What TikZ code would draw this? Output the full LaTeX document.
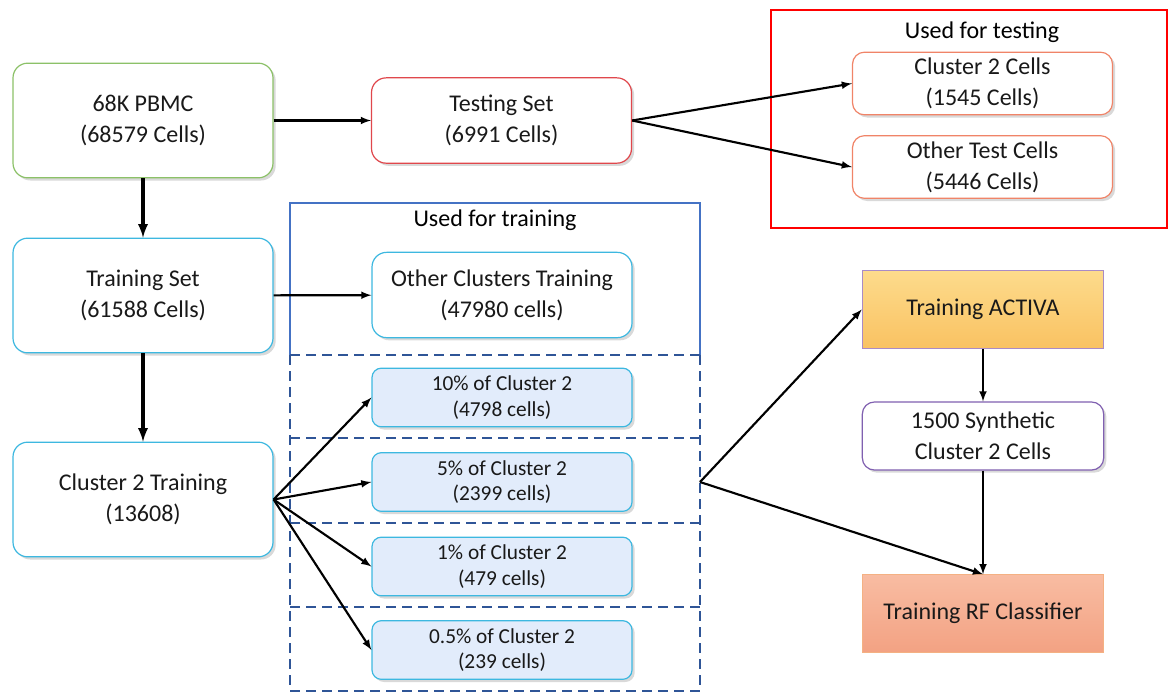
\documentclass[tikz,border=0pt]{standalone}
\usepackage{fontspec}
\setmainfont{Carlito}
\usetikzlibrary{shadows,arrows}
\definecolor{pbmcgreen}{HTML}{8CC168}
\definecolor{testred}{HTML}{E0474C}
\definecolor{framered}{HTML}{FF0000}
\definecolor{subred}{HTML}{F08468}
\definecolor{traincyan}{HTML}{3DB8E0}
\definecolor{frameblue}{HTML}{4472C4}
\definecolor{bandblue}{HTML}{2F5597}
\definecolor{pctfill}{HTML}{E2ECFB}
\definecolor{activatop}{HTML}{FDDB8C}
\definecolor{activabot}{HTML}{F9C262}
\definecolor{activaedge}{HTML}{A98BC6}
\definecolor{synthedge}{HTML}{8060B0}
\definecolor{rftop}{HTML}{F8BCA2}
\definecolor{rfbot}{HTML}{F3A283}
\definecolor{rfedge}{HTML}{F4B183}
\begin{document}
\begin{tikzpicture}[x=0.75pt,y=-0.75pt]
	\tikzstyle{cellbox} = [draw, fill=white, rounded corners=11pt, line width=0.9pt, minimum width=195pt, minimum height=86pt, align=center, text=black!90, font={\fontsize{18}{23}\selectfont}, drop shadow={shadow xshift=2pt, shadow yshift=-2pt, opacity=0.3}]
	\tikzstyle{subbox} = [cellbox, minimum width=195pt, minimum height=47pt, rounded corners=9pt]
	\tikzstyle{pctbox} = [cellbox, fill=pctfill, draw=traincyan, minimum width=195pt, minimum height=44pt, rounded corners=7pt, font={\fontsize{16}{19}\selectfont}]
	\tikzstyle{stagebox} = [draw, rectangle, line width=0.9pt, minimum width=181pt, minimum height=58pt, align=center, text=black!90, font={\fontsize{18}{23}\selectfont}]
	\tikzstyle{band} = [draw=bandblue, line width=1.5pt, dash pattern=on 7.5pt off 4.5pt]
	\tikzstyle{thin} = [-latex, line width=1.6pt]
	\tikzstyle{thick} = [-latex, line width=2.4pt]
	\useasboundingbox (0,0) rectangle (1169,693);

	% frames
	\draw[framered, line width=2.2pt] (771,10) rectangle (1167,228);
	\node[font={\fontsize{18}{22}\selectfont}] (testlabel) at (982,32) {Used for testing};
	\draw[frameblue, line width=1.5pt] (290,355) |- (700,203) -- (700,355);
	\node[font={\fontsize{18}{22}\selectfont}] (trainlabel) at (495,220) {Used for training};
	\foreach \y in {355, 438, 523, 607, 691}
		\draw[band] (290,\y) -- (700,\y);
	\draw[band] (290,355) -- (290,691);
	\draw[band] (700,355) -- (700,691);

	% left column
	\node[cellbox, draw=pbmcgreen] (pbmc) at (143,120.5) {68K PBMC\\(68579 Cells)};
	\node[cellbox, draw=traincyan] (trainset) at (143,295.5) {Training Set\\(61588 Cells)};
	\node[cellbox, draw=traincyan] (cluster) at (143,499.5) {Cluster 2 Training\\(13608)};
	\draw[thick] (pbmc) -- (trainset);
	\draw[thick] (trainset) -- (cluster);

	% testing branch
	\node[cellbox, draw=testred, minimum height=64pt] (testset) at (501.5,120.5) {Testing Set\\(6991 Cells)};
	\node[subbox, draw=subred] (c2test) at (982.5,83.5) {Cluster 2 Cells\\(1545 Cells)};
	\node[subbox, draw=subred] (othertest) at (982.5,167) {Other Test Cells\\(5446 Cells)};
	\draw[thin] (pbmc) -- (testset);
	\draw[thin] (testset.east) -- (c2test.west);
	\draw[thin] (testset.east) -- (othertest.west);

	% training branch
	\node[cellbox, draw=traincyan, minimum height=64pt] (othertrain) at (502,295) {Other Clusters Training\\(47980 cells)};
	\draw[thin] (trainset) -- (othertrain);
	\node[pctbox] (p10) at (502,397.5) {10\% of Cluster 2\\(4798 cells)};
	\node[pctbox] (p5) at (502,482) {5\% of Cluster 2\\(2399 cells)};
	\node[pctbox] (p1) at (502,566.5) {1\% of Cluster 2\\(479 cells)};
	\node[pctbox] (p05) at (502,650) {0.5\% of Cluster 2\\(239 cells)};
	\foreach \p in {p10, p5, p1, p05}
		\draw[thin] (cluster.east) -- (\p.west);

	% right column
	\node[stagebox, draw=activaedge, top color=activatop, bottom color=activabot] (activa) at (983,309.5) {Training ACTIVA};
	\node[cellbox, draw=synthedge, minimum width=181pt, minimum height=51pt, rounded corners=9pt] (synth) at (983,436) {1500 Synthetic\\Cluster 2 Cells};
	\node[stagebox, draw=rfedge, top color=rftop, bottom color=rfbot] (rf) at (983,613.5) {Training RF Classifier};
	\coordinate (split) at (700,482);
	\draw[thin] (split) -- (activa.west);
	\draw[thin] (split) -- (rf.north);
	\draw[thin] (activa) -- (synth);
	\draw[thin] (synth) -- (rf);
\end{tikzpicture}
\end{document}
